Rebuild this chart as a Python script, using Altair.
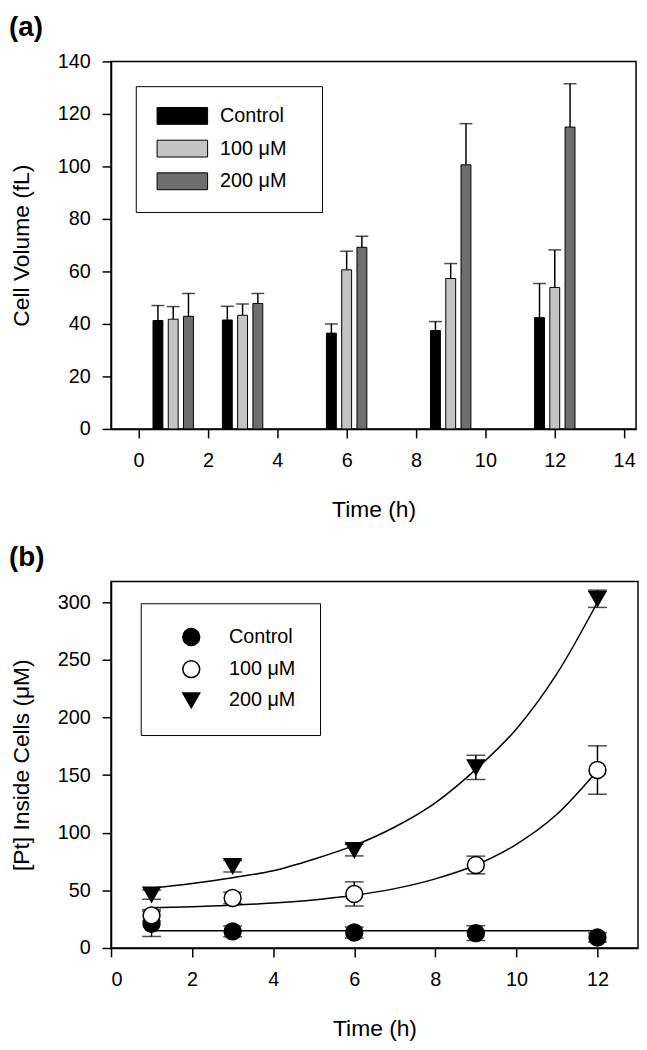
import altair as alt
import pandas as pd

# ---------------- data ----------------
series = ["Control", "100 μM", "200 μM"]

# panel (a): cell volume (fL)
bar_times = [1, 3, 6, 9, 12]
bar_control = [41.3, 41.5, 36.5, 37.5, 42.4]
bar_control_err = [5.7, 5.2, 3.5, 3.4, 13.0]
bar_100 = [41.8, 43.3, 60.6, 57.3, 53.9]
bar_100_err = [4.8, 4.3, 7.1, 5.7, 14.3]
bar_200 = [42.9, 47.8, 69.2, 100.6, 115.0]
bar_200_err = [8.7, 3.8, 4.2, 15.7, 16.5]

# panel (b): [Pt] inside cells (uM)
pt_times = [1, 3, 6, 9, 12]
pt_control = [21.0, 14.4, 13.4, 12.9, 9.1]
pt_control_err = [11.0, 4.7, 4.7, 6.4, 4.0]
pt_100 = [28.3, 43.4, 46.9, 72.0, 154.4]
pt_100_err = [5.0, 5.0, 10.5, 7.7, 21.0]
pt_200 = [46.3, 71.0, 84.9, 156.7, 303.0]
pt_200_err = [4.0, 5.0, 5.0, 10.5, 7.5]

# fitted curves
fit_times = [1, 2, 3, 4, 5, 6, 7, 8, 9, 10, 11, 12]
fit_control = [15.0, 15.0, 15.0, 15.0, 15.0, 15.0, 15.0, 15.0, 15.0, 15.0, 15.0, 15.0]
fit_100 = [35.0, 35.8, 37.1, 39.0, 41.7, 45.7, 51.5, 60.0, 72.0, 90.0, 116.0, 154.0]
fit_200 = [52.0, 56.0, 61.0, 67.0, 77.0, 89.0, 105.0, 126.0, 155.0, 190.0, 238.0, 300.0]

# style constants
bar_colors = ["#000000", "#c4c4c4", "#6e6e6e"]
bar_dodge = {"Control": -0.44, "100 μM": 0.0, "200 μM": 0.44}  # hours, grouped-bar offset
pt_fills = ["#000000", "#ffffff", "#000000"]
pt_strokes = ["#000000", "#000000", "#000000"]
pt_shapes = ["circle", "circle", "triangle-down"]
FONT = "Liberation Sans"
BLANK = "\u2800"  # blank glyph used only to widen the legend box

# ---------------- tables ----------------
rows = []
for s, vals, errs in zip(series, [bar_control, bar_100, bar_200],
                         [bar_control_err, bar_100_err, bar_200_err]):
    for t, v, e in zip(bar_times, vals, errs):
        rows.append({"time": t, "pos": t + bar_dodge[s], "series": s, "value": v, "top": v + e})
dfa = pd.DataFrame(rows)

rows = []
for s, vals, errs in zip(series, [pt_control, pt_100, pt_200],
                         [pt_control_err, pt_100_err, pt_200_err]):
    for t, v, e in zip(pt_times, vals, errs):
        rows.append({"time": t, "series": s, "value": v, "lo": v - e, "hi": v + e})
dfb = pd.DataFrame(rows)

rows = []
for s, vals in zip(series, [fit_control, fit_100, fit_200]):
    for t, v in zip(fit_times, vals):
        rows.append({"time": t, "series": s, "value": v})
dff = pd.DataFrame(rows)

# ---------------- panel (a) ----------------
xa = alt.X("pos:Q", scale=alt.Scale(domain=[-0.65, 14.2], nice=False, zero=False),
           axis=alt.Axis(values=[0, 2, 4, 6, 8, 10, 12, 14], title="Time (h)"))
ya_scale = alt.Scale(domain=[0, 140], nice=False)
ya_axis = alt.Axis(values=[0, 20, 40, 60, 80, 100, 120, 140], title="Cell Volume (fL)")

base_a = alt.Chart(dfa)
err_a = base_a.mark_rule(color="black", strokeWidth=1.5).encode(
    x=xa, y=alt.Y("value:Q", scale=ya_scale, axis=ya_axis, stack=None), y2="top:Q")
cap_a = base_a.mark_tick(color="black", orient="horizontal", size=13, thickness=1.5).encode(
    x=xa, y=alt.Y("top:Q", scale=ya_scale, axis=ya_axis))
bars_a = base_a.mark_bar(size=10, stroke="black", strokeWidth=1).encode(
    x=xa,
    y=alt.Y("value:Q", scale=ya_scale, axis=ya_axis, stack=None),
    fill=alt.Fill("series:N", scale=alt.Scale(domain=series, range=bar_colors),
                  legend=alt.Legend(title=None, orient="none", legendX=25, legendY=25,
                                    direction="vertical", strokeColor="black",
                                    fillColor="white", padding=20,
                                    symbolType="M-3,-1H3V1H-3Z",
                                    symbolSize=289, symbolStrokeColor="black",
                                    symbolStrokeWidth=1, symbolOffset=17,
                                    labelOffset=28, rowPadding=11,
                                    labelExpr="datum.label + '" + BLANK + "'",
                                    labelFont=FONT, labelFontSize=20,
                                    labelColor="black")),
)
panel_a = alt.layer(err_a, cap_a, bars_a).properties(
    width=530, height=371,
    title=alt.Title("(a)", anchor="start", frame="group", dx=-103, offset=10,
                    font=FONT, fontSize=28, fontWeight="bold", color="black"))

# ---------------- panel (b) ----------------
xb = alt.X("time:Q", scale=alt.Scale(domain=[0, 13], nice=False, zero=False),
           axis=alt.Axis(values=[0, 2, 4, 6, 8, 10, 12], title="Time (h)"))
yb_scale = alt.Scale(domain=[0, 318], nice=False)
yb_axis = alt.Axis(values=[0, 50, 100, 150, 200, 250, 300], title="[Pt] Inside Cells (μM)")

legend_b = alt.Legend(title=None, orient="none", legendX=30, legendY=22,
                      direction="vertical", strokeColor="black", fillColor="white",
                      padding=24, symbolStrokeColor="black", symbolStrokeWidth=1.5,
                      symbolSize=290, symbolOffset=17, labelOffset=28, rowPadding=8.5,
                      labelFont=FONT, labelFontSize=20, labelColor="black")

lines_b = alt.Chart(dff).mark_line(color="black", strokeWidth=1.5, interpolate="monotone").encode(
    x=xb, y=alt.Y("value:Q", scale=yb_scale, axis=yb_axis), detail="series:N")
base_b = alt.Chart(dfb)
err_b = base_b.mark_rule(color="black", strokeWidth=1.5).encode(
    x=xb, y=alt.Y("lo:Q", scale=yb_scale, axis=yb_axis), y2="hi:Q")
caplo_b = base_b.mark_tick(color="black", orient="horizontal", size=19, thickness=1.5).encode(
    x=xb, y=alt.Y("lo:Q", scale=yb_scale, axis=yb_axis))
caphi_b = base_b.mark_tick(color="black", orient="horizontal", size=19, thickness=1.5).encode(
    x=xb, y=alt.Y("hi:Q", scale=yb_scale, axis=yb_axis))
pts_b = base_b.mark_point(filled=False, size=290, strokeWidth=1.5,
                          opacity=1, fillOpacity=1).encode(
    x=xb, y=alt.Y("value:Q", scale=yb_scale, axis=yb_axis),
    shape=alt.Shape("series:N", scale=alt.Scale(domain=series, range=pt_shapes), legend=legend_b),
    fill=alt.Fill("series:N", scale=alt.Scale(domain=series, range=pt_fills), legend=legend_b),
    stroke=alt.Stroke("series:N", scale=alt.Scale(domain=series, range=pt_strokes), legend=legend_b),
)
panel_b = alt.layer(lines_b, err_b, caplo_b, caphi_b, pts_b).properties(
    width=532, height=370,
    title=alt.Title("(b)", anchor="start", frame="group", dx=-103, offset=10,
                    font=FONT, fontSize=28, fontWeight="bold", color="black"))

chart = alt.vconcat(panel_a, panel_b, spacing=21).resolve_scale(
    x="independent", y="independent", fill="independent", shape="independent",
    stroke="independent"
).properties(
    padding={"left": 0, "top": 0, "right": 0, "bottom": 0}
).configure_view(
    stroke="black", strokeWidth=1.5
).configure_axis(
    grid=False, domainColor="black", domainWidth=1.5, tickColor="black", tickWidth=1.5,
    tickSize=9, labelColor="black", labelFont=FONT, labelFontSize=20,
    titleFont=FONT, titleFontSize=23, titleFontWeight="normal", titleColor="black",
).configure_axisX(
    labelPadding=13, titlePadding=28
).configure_axisY(
    labelPadding=12, titlePadding=24
)

chart.save("out.html", embed_options={"renderer": "svg", "actions": False})
